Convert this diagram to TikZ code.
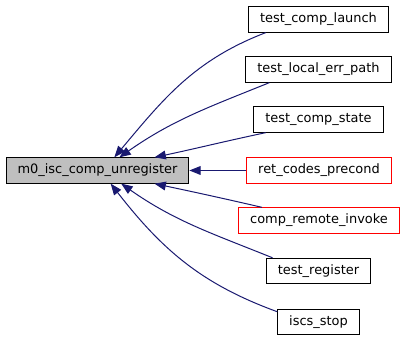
\documentclass[tikz,border=0pt]{standalone}
\usepackage{fontspec}
\setmainfont{DejaVu Sans}
\usepackage{tikz}
\usetikzlibrary{arrows.meta}
\usepackage{xcolor}
\definecolor{edgeblue}{HTML}{191970}
\definecolor{boxgray}{HTML}{BFBFBF}

\begin{document}
\begin{tikzpicture}[
		x=0.75pt, y=-0.75pt,
		box/.style={
			draw,
			line width=0.75pt,
			font=\fontsize{9.7}{11.6}\selectfont,
			inner xsep=8.6pt,
			inner ysep=0pt,
			minimum height=19pt
		},
		mainbox/.style={
			box,
			fill=boxgray
		},
		redbox/.style={
			box,
			draw=red
		},
		arrow/.style={
			-{Triangle[length=8.5pt,width=6.6pt]},
			draw=edgeblue,
			fill=none,
			line width=0.75pt
		}
		]
		\useasboundingbox (0,0) rectangle (405,341);
		
		% Funcao chamada
		\node[mainbox] (unreg) at (97.5,170.5) {m0\_isc\_comp\_unregister};
		
		% Quem chama
		\node[box] (launch) at (318.5,19.5) {test\_comp\_launch};
		\node[box] (errpath) at (318.5,69.5) {test\_local\_err\_path};
		\node[box] (state) at (318.5,119.5) {test\_comp\_state};
		\node[redbox] (precond) at (319,170.5) {ret\_codes\_precond};
		\node[redbox] (remote) at (319,220.5) {comp\_remote\_invoke};
		\node[box] (register) at (318.5,271) {test\_register};
		\node[box] (stop) at (318.5,322) {iscs\_stop};
		
		% Ligacoes para a funcao
		\draw[arrow] (launch.-166.8) to[out=201,in=50] (unreg.38.9);
		\draw[arrow] (errpath.-165) to[out=202,in=35] (unreg.31.4);
		\draw[arrow] (state.-166.2) to[out=192,in=12] (unreg.13.2);
		\draw[arrow] (precond.west) -- (unreg.east);
		\draw[arrow] (remote.167.4) to[out=167,in=-12] (unreg.-13.2);
		\draw[arrow] (register.164.4) to[out=158,in=-35] (unreg.-29);
		\draw[arrow] (stop.166.5) to[out=160,in=-52] (unreg.-45);
		
	\end{tikzpicture}
\end{document}
